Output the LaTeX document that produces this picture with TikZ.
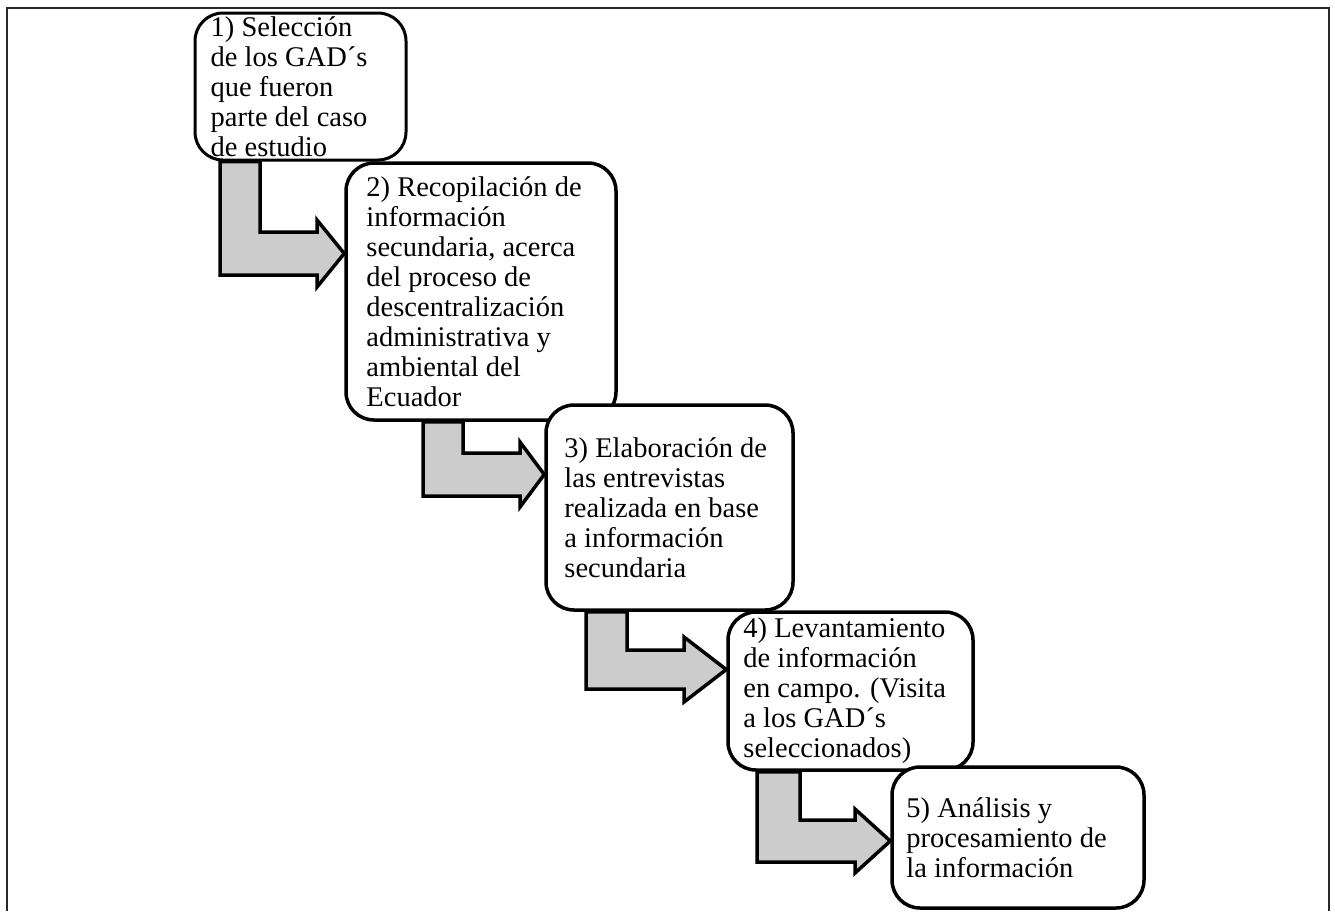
\documentclass[tikz,border=0pt]{standalone}
\usepackage{fontspec}
\setmainfont{Liberation Serif}
\usetikzlibrary{positioning, backgrounds}

\definecolor{arrowgray}{RGB}{204,204,204}
\definecolor{framegray}{RGB}{40,40,40}

\tikzset{
  stepbox/.style={draw, line width=3.5pt, fill=white, rounded corners=28pt,
    inner sep=0pt},
  steptext/.style={inner sep=0pt, align=left,
    font=\fontsize{28.5pt}{30pt}\selectfont},
  flowarrow/.style={draw, line width=3.5pt, fill=arrowgray, line join=miter}
}

\begin{document}
\begin{tikzpicture}[x=1pt, y=-1pt]
  \useasboundingbox (0,0) rectangle (1335,911);
  \draw[framegray, line width=2pt] (7,911) -- (7,8) -- (1329,8) -- (1329,911);

  \node[stepbox, line width=3pt, minimum width=211pt, minimum height=147pt] (s1) at (300.5,86.5) {};
  \node[steptext] (t1) [right=17pt of s1.west] {1) Selección\\de los GAD´s\\que fueron\\parte del caso\\de estudio};

  \node[stepbox, minimum width=270pt, minimum height=257pt] (s2) at (481,291.5) {};
  \node[steptext] (t2) [right=22pt of s2.west] {2) Recopilación de\\información\\secundaria, acerca\\del proceso de\\descentralización\\administrativa y\\ambiental del\\Ecuador};

  \node[stepbox, minimum width=247pt, minimum height=205pt] (s3) at (669.5,507.5) {};
  \node[steptext] (t3) [right=20pt of s3.west] {3) Elaboración de\\las entrevistas\\realizada en base\\a información\\secundaria};

  \node[stepbox, minimum width=245pt, minimum height=158pt] (s4) at (850.5,691) {};
  \node[steptext] (t4) [right=17pt of s4.west] {4) Levantamiento\\de información\\en campo. (Visita\\a los GAD´s\\seleccionados)};

  \node[stepbox, minimum width=252pt, minimum height=141pt] (s5) at (1018,837.5) {};
  \node[steptext] (t5) [right=16pt of s5.west] {5) Análisis y\\procesamiento de\\la información};

  % bent arrows between the steps
  \begin{scope}[on background layer]
    \draw[flowarrow] (220,0 |- s1.south) -- (220,275) -- (317,275) -- (317,287)
      -- (s2.west |- 0,253.5) -- (317,220) -- (317,232) -- (260,232)
      -- (260,0 |- s1.south) -- cycle;
    \draw[flowarrow] (423,0 |- s2.south) -- (423,496) -- (520,496) -- (520,507)
      -- (s3.west |- 0,474.5) -- (520,442) -- (520,453) -- (463,453)
      -- (463,0 |- s2.south) -- cycle;
    \draw[flowarrow] (586,0 |- s3.south) -- (586,689) -- (684,689) -- (684,702)
      -- (s4.west |- 0,669.5) -- (684,637) -- (684,650) -- (627,650)
      -- (627,0 |- s3.south) -- cycle;
    \draw[flowarrow] (757,0 |- s4.south) -- (757,862) -- (855,862) -- (855,873)
      -- (s5.west |- 0,841) -- (855,809) -- (855,820) -- (800,820)
      -- (800,0 |- s4.south) -- cycle;
  \end{scope}
\end{tikzpicture}
\end{document}
